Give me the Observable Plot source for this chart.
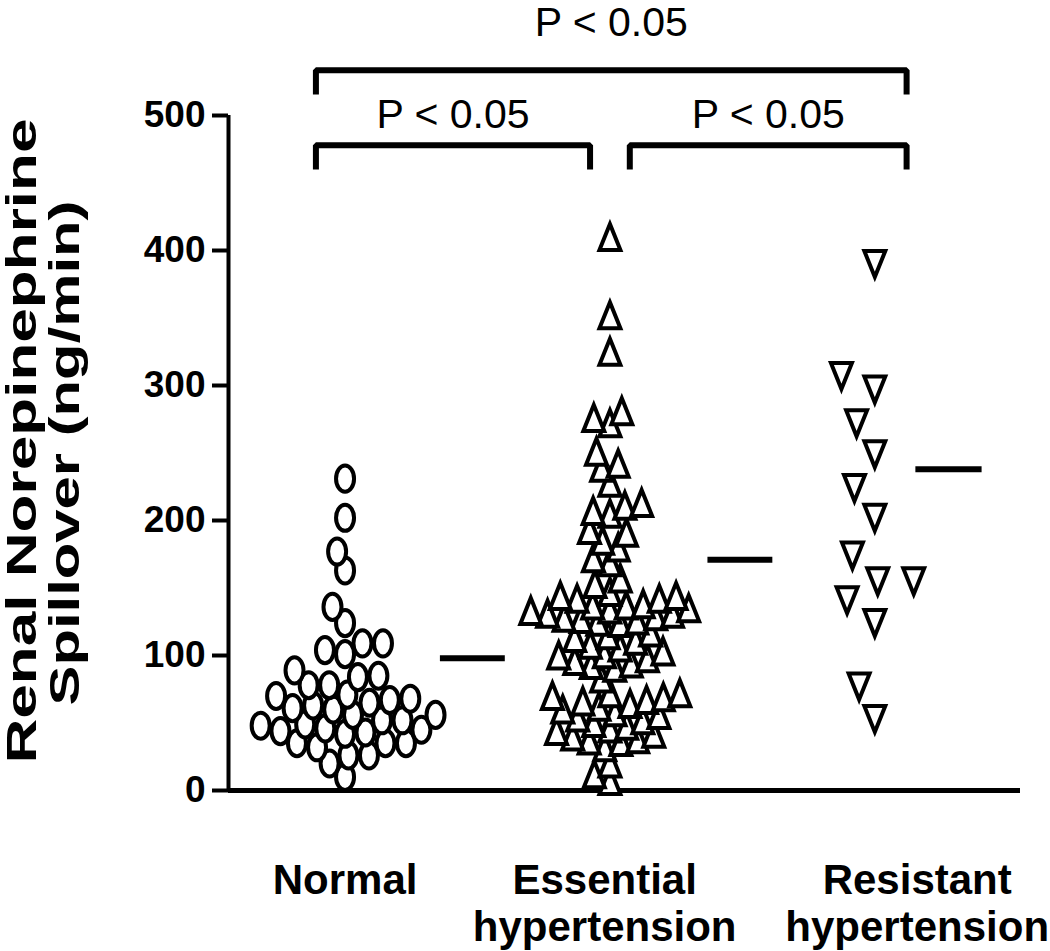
<!DOCTYPE html>
<html><head><meta charset="utf-8">
<script src="https://cdn.jsdelivr.net/npm/d3@7"></script>
<script src="https://cdn.jsdelivr.net/npm/@observablehq/plot@0.6"></script>
<style>html,body{margin:0;padding:0;background:#fff}#chart svg{display:block}</style>
</head><body><div id="chart"></div>
<script>
// ---------- data ----------
const groups = ["Normal", "Essential hypertension", "Resistant hypertension"];
const groupLabels = ["Normal", "Essential\nhypertension", "Resistant\nhypertension"];
const normal = [231, 202, 177, 163, 136, 124, 109, 109, 104, 101, 89, 84, 78, 78, 85,
  70, 67, 63, 60, 56, 52, 49, 46, 44, 42, 43, 45, 48, 52, 56, 61, 65, 68, 71,
  35, 32, 26, 10, 20, 26, 35, 35];
const essential = [410, 352, 325, 281, 276, 272, 251, 242, 239, 228,
  213, 211, 207, 205, 193, 191, 185, 180, 172, 169,
  157, 153, 147, 144, 144, 142, 142,
  138, 137, 135, 133, 131, 129, 127, 125, 124, 126, 128, 131, 134, 137,
  117, 115, 113, 111, 108, 106, 103, 101, 100, 98, 96, 94, 93, 91,
  83, 72, 72,
  70, 69, 66, 62, 58, 54, 50, 46, 42, 38, 37, 40, 44, 48, 52, 56, 60, 64, 67,
  36, 32, 20, 12, 7];
const resistant = [390, 307, 297, 272, 249, 224, 202, 174, 155, 155, 141, 124, 77, 53];
const groupMeans = [98, 171, 238];
const comparisons = [
  {from: 0, to: 2, label: "P < 0.05", level: 1},
  {from: 0, to: 1, label: "P < 0.05", level: 0},
  {from: 1, to: 2, label: "P < 0.05", level: 0}
];
const yTicks = [0, 100, 200, 300, 400, 500];
const yTitleLines = ["Renal Norepinephrine", "Spillover (ng/min)"];

// ---------- layout / style ----------
const W = 1050, H = 951, ML = 228, MR = 30, MT = 115, MB = 161;
const X0 = -0.44, X1 = 2.55;
const px = v => ML + (v - X0) / (X1 - X0) * (W - ML - MR);
const frameMid = ML + (W - ML - MR) / 2;
const font = "'Liberation Sans', Arial, Helvetica, sans-serif";

// symbols (tall, as in the picture)
const K = 0.5523;
const ellipse = {draw(ctx, size) {
  const r = Math.sqrt(size / Math.PI), rx = r, ry = r * 1.45;
  ctx.moveTo(rx, 0);
  ctx.bezierCurveTo(rx, ry * K, rx * K, ry, 0, ry);
  ctx.bezierCurveTo(-rx * K, ry, -rx, ry * K, -rx, 0);
  ctx.bezierCurveTo(-rx, -ry * K, -rx * K, -ry, 0, -ry);
  ctx.bezierCurveTo(rx * K, -ry, rx, -ry * K, rx, 0);
  ctx.closePath();
}};
const triUp = {draw(ctx, size) {
  const r = Math.sqrt(size / Math.PI), a = r * 1.31, h = r * 3.25;
  ctx.moveTo(0, -h / 2); ctx.lineTo(a, h / 2); ctx.lineTo(-a, h / 2); ctx.closePath();
}};
const triDown = {draw(ctx, size) {
  const r = Math.sqrt(size / Math.PI), a = r * 1.31, h = r * 3.25;
  ctx.moveTo(0, h / 2); ctx.lineTo(a, -h / 2); ctx.lineTo(-a, -h / 2); ctx.closePath();
}};

const sets = [normal, essential, resistant];
const points = sets.map((vals, i) => d3.sort(vals).map(v => ({group: groups[i], value: v})));
const symbols = [ellipse, triUp, triDown];
const radii = [9, 8, 8];
const paddings = [2.5, 1, 20];

const meanSpan = [[0.36, 0.605], [0.37, 0.615], [0.155, 0.405]];
const barY = level => 478 + level * 55.5;
const armLen = 18;
const ends = c => [c.from + (c.from === 0 ? -0.11 : 0.075), c.to + (c.to === 2 ? 0.12 : -0.075)];
const bracketPts = comparisons.flatMap((c, k) => {
  const [a, b] = ends(c), yb = barY(c.level), ya = yb - armLen;
  return [{k, x: a, y: ya}, {k, x: a, y: yb}, {k, x: b, y: yb}, {k, x: b, y: ya}];
});
const labelShift = [0, -0.02, 0.16];

const marks = [
  Plot.ruleY([0], {strokeWidth: 5}),
  Plot.ruleX([X0], {y1: 0, y2: 500, strokeWidth: 4}),
  Plot.axisY({ticks: yTicks, tickFormat: "d", tickSize: 16, tickPadding: 7, strokeWidth: 4,
    fontSize: 37, fontWeight: "bold", label: null}),
  ...points.map((pts, i) => Plot.dot(pts, Plot.dodgeX({anchor: "middle", padding: paddings[i]}, {
    y: "value", r: radii[i], symbol: symbols[i], fill: "white", stroke: "black",
    strokeWidth: 4, dx: px(i) - frameMid
  }))),
  Plot.ruleY(groupMeans, {y: d => d, x1: (d, i) => i + meanSpan[i][0], x2: (d, i) => i + meanSpan[i][1], strokeWidth: 6}),
  Plot.line(bracketPts, {x: "x", y: "y", z: "k", strokeWidth: 6, strokeLinejoin: "miter", strokeLinecap: "butt"}),
  Plot.text(comparisons, {x: c => (ends(c)[0] + ends(c)[1]) / 2, y: c => barY(c.level) + (c.level ? 25.5 : 12.5),
    text: "label", lineAnchor: "bottom", fontSize: 41}),
  Plot.text(groupLabels, {x: (d, i) => i + labelShift[i], frameAnchor: "bottom", dy: 71, lineAnchor: "top",
    lineHeight: 1.1, fontSize: 42, fontWeight: "bold"}),
  ...yTitleLines.map((line, i) => Plot.text([line], {frameAnchor: "left", dx: [-206, -163][i], dy: [-12, 0][i],
    rotate: -90, textAnchor: "middle", lineAnchor: "middle", fontSize: 42, fontWeight: "bold"}))
];

const chart = Plot.plot({
  width: W, height: H, marginLeft: ML, marginRight: MR, marginTop: MT, marginBottom: MB,
  x: {domain: [X0, X1], axis: null},
  y: {domain: [0, 500], axis: null},
  style: {fontFamily: font, background: "white", color: "black", overflow: "visible"},
  marks
});
// stretch the rotated title along its length, as in the picture
const titleLengths = [645, 505];
chart.querySelectorAll("text").forEach(t => {
  const i = yTitleLines.indexOf(t.textContent);
  if (i >= 0) {
    t.setAttribute("textLength", titleLengths[i]);
    t.setAttribute("lengthAdjust", "spacingAndGlyphs");
  }
});
document.getElementById("chart").appendChild(chart);
</script>
</body></html>
